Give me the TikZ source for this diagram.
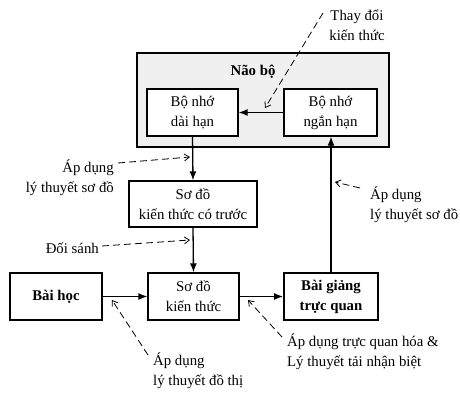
\documentclass[tikz,border=0pt]{standalone}
\usepackage{fontspec}
\setmainfont{Liberation Serif}
\usetikzlibrary{arrows.meta}
\begin{document}
\begin{tikzpicture}[x=1pt,y=-1pt,
  txt/.style={font=\fontsize{14.8}{20}\selectfont},
  box/.style={draw, line width=1.3pt, fill=white, minimum height=47pt, inner sep=0pt, align=center, txt},
  boldbox/.style={box, line width=1.9pt, font=\fontsize{14.8}{20}\selectfont\bfseries},
  flow/.style={line width=1.3pt, -{Latex[length=9pt,width=7pt]}},
  note/.style={dashed, dash pattern=on 7pt off 4pt, line width=0.8pt, -{Straight Barb[length=5pt,width=7pt]}},
  lbl/.style={txt, inner sep=0pt}]
\useasboundingbox (0,0) rectangle (460,393);

% brain container and its two memory stores
\node[draw, line width=1.7pt, fill=black!6, minimum width=252pt, minimum height=94pt, inner sep=0pt] (brain) at (263,100) {};
\node[lbl, font=\fontsize{14.8}{20}\selectfont\bfseries] (braintitle) at (253,72) {Não bộ};
\node[box, minimum width=91pt] (ltm) at (192.5,112.5) {Bộ nhớ\\dài hạn};
\node[box, minimum width=93pt] (stm) at (330.5,112.5) {Bộ nhớ\\ngắn hạn};

% schema chain
\node[box, minimum width=128pt, minimum height=46pt] (prior) at (193,204) {Sơ đồ\\kiến thức có trước};
\node[box, minimum width=91pt] (schema) at (193.5,296.5) {Sơ đồ\\kiến thức};
\node[boldbox, minimum width=92pt] (lesson) at (56,296.5) {Bài học};
\node[boldbox, minimum width=94pt] (visual) at (331,296.5) {Bài giảng\\trực quan};

% main flow
\draw[flow] (stm.west) -- (ltm.east);
\draw[flow] (ltm.south) -- (prior.north);
\draw[flow] (prior.south) -- (schema.north);
\draw[flow] (lesson.east) -- (schema.west);
\draw[flow] (schema.east) -- (visual.west);
\draw[flow] (visual.north) -- (visual.north |- stm.south);

% annotations
\node[lbl, align=center] (n1) at (357,25) {Thay đổi\\kiến thức};
\coordinate (n1s) at (323,13);
\coordinate (n1e) at (265,108);
\draw[note] (n1s) -- (n1e);

\node[lbl, align=right, anchor=east] (n2) at (114,178) {Áp dụng\\lý thuyết sơ đồ};
\coordinate (n2s) at (118,163);
\coordinate (n2e) at (190,157);
\draw[note] (n2s) -- (n2e);

\node[lbl, anchor=east] (n3) at (99,248) {Đối sánh};
\coordinate (n3s) at (102,246);
\coordinate (n3e) at (190,240);
\draw[note] (n3s) -- (n3e);

\node[lbl, align=left, anchor=west] (n4) at (153,371) {Áp dụng\\lý thuyết đồ thị};
\coordinate (n4s) at (148,355);
\coordinate (n4e) at (112,300);
\draw[note] (n4s) -- (n4e);

\node[lbl, align=left, anchor=west] (n5) at (287,352) {Áp dụng trực quan hóa \&\\Lý thuyết tải nhận biệt};
\coordinate (n5s) at (282,337);
\coordinate (n5e) at (248,300);
\draw[note] (n5s) -- (n5e);

\node[lbl, align=left, anchor=west] (n6) at (370,205) {Áp dụng\\lý thuyết sơ đồ};
\coordinate (n6s) at (360,188);
\coordinate (n6e) at (335,182);
\draw[note] (n6s) -- (n6e);
\end{tikzpicture}
\end{document}
